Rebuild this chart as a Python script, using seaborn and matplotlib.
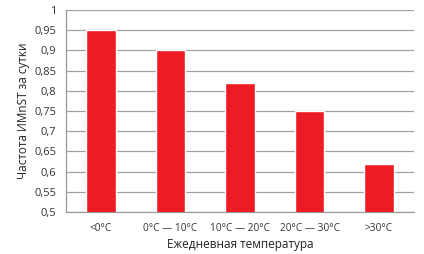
import matplotlib
matplotlib.use("Agg")
import matplotlib.pyplot as plt
import seaborn as sns
import pandas as pd

categories = ["<0°C", "0°C — 10°C", "10°C — 20°C", "20°C — 30°C", ">30°C"]
values = [0.95, 0.90, 0.82, 0.75, 0.62]
yticks = [0.5, 0.55, 0.6, 0.65, 0.7, 0.75, 0.8, 0.85, 0.9, 0.95, 1.0]
ytick_labels = ["0,5", "0,55", "0,6", "0,65", "0,7", "0,75", "0,8", "0,85", "0,9", "0,95", "1"]

sns.set_theme(style="white")
plt.rcParams["font.family"] = ["Open Sans", "DejaVu Sans"]

df = pd.DataFrame({"cat": categories, "val": values})

fig = plt.figure(figsize=(4.24, 2.54), dpi=100)
ax = fig.add_axes([0.156, 0.165, 0.82, 0.796])
sns.barplot(data=df, x="cat", y="val", color="#ED1C24", saturation=1, width=0.42, ax=ax, zorder=3)
ax.set_ylim(0.5, 1.0)
ax.set_yticks(yticks)
ax.set_yticklabels(ytick_labels, fontsize=8, color="#333333")
ax.tick_params(axis="x", labelsize=7.3, colors="#333333", length=0, pad=8)
ax.tick_params(axis="y", length=4, color="#999999", pad=3)
ax.yaxis.grid(True, color="#A0A0A0", linewidth=0.9, zorder=0)
for s in ["top", "right"]:
    ax.spines[s].set_visible(False)
for s in ["left", "bottom"]:
    ax.spines[s].set_color("#999999")
    ax.spines[s].set_linewidth(0.9)
ax.set_xlabel("Ежедневная температура", fontsize=8.5, color="#222222", labelpad=3)
ax.set_ylabel("Частота ИМnST за сутки", fontsize=8.5, color="#222222", labelpad=3)
ax.set_xlim(-0.5, 4.5)
fig.savefig("out.png", dpi=100)
